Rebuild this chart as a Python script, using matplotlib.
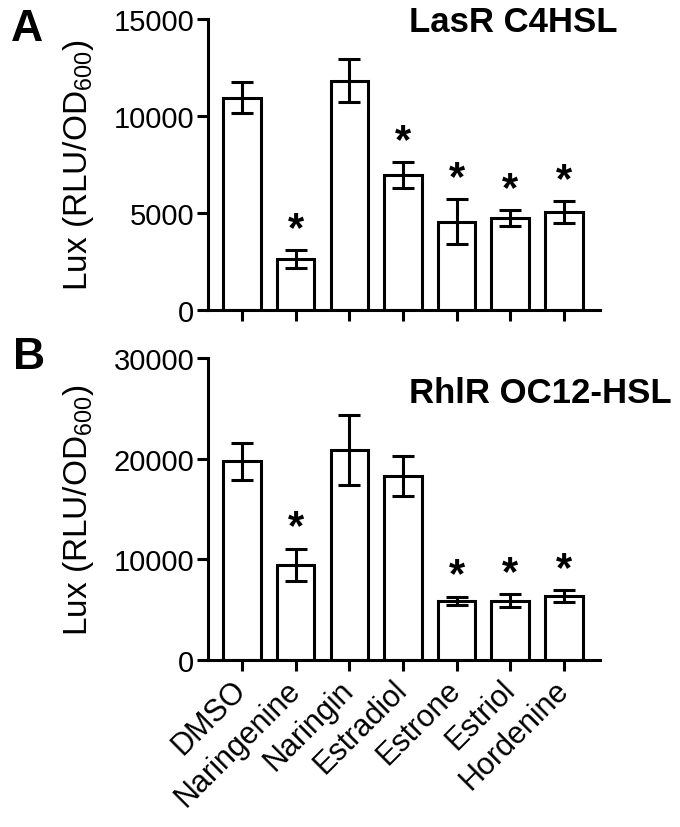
import matplotlib
matplotlib.use("Agg")
import matplotlib.pyplot as plt
import numpy as np

# Data
compounds = ["DMSO", "Naringenine", "Naringin", "Estradiol", "Estrone", "Estriol", "Hordenine"]

lasr_mean = [10950, 2630, 11820, 6970, 4570, 4740, 5040]
lasr_err = [780, 470, 1100, 650, 1140, 410, 570]
lasr_sig = [False, True, False, True, True, True, True]

rhlr_mean = [19780, 9440, 20900, 18290, 5860, 5900, 6360]
rhlr_err = [1840, 1620, 3500, 1975, 430, 620, 560]
rhlr_sig = [False, True, False, False, True, True, True]

plt.rcParams["font.family"] = ["Liberation Sans", "DejaVu Sans"]
plt.rcParams["mathtext.fontset"] = "custom"
plt.rcParams["mathtext.rm"] = "Liberation Sans"

fig = plt.figure(figsize=(6.8, 8.28), dpi=100)
ax1 = fig.add_axes([0.306, 0.624, 0.576, 0.352])
ax2 = fig.add_axes([0.306, 0.2017, 0.576, 0.3644])

x = np.arange(len(compounds))
lw = 2.2


def draw_panel(ax, means, errs, sig, ymax, step, title, tx, ty):
    ax.bar(x, means, width=0.7, color="white", edgecolor="black", linewidth=lw, zorder=2)
    ax.errorbar(x, means, yerr=errs, fmt="none", ecolor="black", elinewidth=lw,
                capsize=8, capthick=lw, zorder=3)
    for i in range(len(means)):
        if sig[i]:
            ax.annotate("*", (x[i], means[i] + errs[i]), xytext=(0, 1),
                        textcoords="offset points", ha="center", va="bottom",
                        fontsize=30, fontweight="bold")
    ax.set_xlim(-0.633, 6.67)
    ax.set_ylim(0, ymax)
    ax.set_yticks(np.arange(0, ymax + 1, step))
    ax.set_xticks(x)
    for s in ["top", "right"]:
        ax.spines[s].set_visible(False)
    for s in ["left", "bottom"]:
        ax.spines[s].set_linewidth(lw)
    ax.tick_params(axis="both", width=lw, length=8, labelsize=21, direction="out", pad=2)
    ax.set_ylabel(r"Lux (RLU/OD$_{600}$)", fontsize=24)
    ax.yaxis.set_label_coords(-0.285, 0.5)
    ax.text(tx, ty, title, transform=ax.transAxes, ha="center", va="center",
            fontsize=25, fontweight="bold")


draw_panel(ax1, lasr_mean, lasr_err, lasr_sig, 15000, 5000, "LasR C4HSL", 0.778, 0.99)
draw_panel(ax2, rhlr_mean, rhlr_err, rhlr_sig, 30000, 10000, "RhlR OC12-HSL", 0.847, 0.888)

ax1.set_xticklabels([])
ax2.set_xticklabels(compounds, rotation=45, ha="right", va="center", rotation_mode="anchor",
                    fontsize=22)
ax2.tick_params(axis="x", pad=10)

fig.text(0.040, 0.964, "A", fontsize=32, fontweight="bold", ha="center", va="center")
fig.text(0.043, 0.568, "B", fontsize=32, fontweight="bold", ha="center", va="center")

fig.savefig("out.png", dpi=100)
